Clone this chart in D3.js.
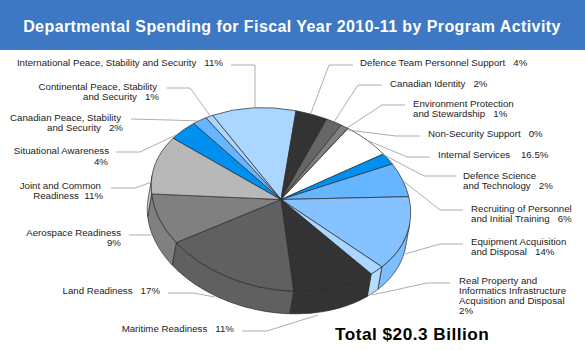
<!DOCTYPE html>
<html>
<head>
<meta charset="utf-8">
<script src="https://d3js.org/d3.v7.min.js"></script>
<style>
  html, body { margin: 0; padding: 0; background: #fff; }
  svg { display: block; }
  text { font-family: "Liberation Sans", Arial, sans-serif; }
</style>
</head>
<body>
<div id="plot"></div>
<script>
// slices clockwise, starting with International Peace
var programs = [
  "International Peace", "Defence Team", "Canadian Identity", "Environment",
  "Non-Security", "Internal Services", "Defence Science", "Recruiting",
  "Equipment", "Real Property", "Maritime", "Land", "Aerospace",
  "Joint and Common", "Situational", "Canadian Peace", "Continental Peace"
]
// percents as printed, except Internal Services: label says 16.5 but the slice is drawn about 6
var shares = [11, 4, 2, 1, 0, 6, 2, 6, 14, 2, 11, 17, 9, 11, 4, 2, 1]
var sliceColors = [
  "#aad6ff", "#333333", "#666666", "#808080", "#ffffff", "#ffffff", "#0090f0", "#66b5ff",
  "#85c2ff", "#aad6ff", "#333333", "#606060", "#808080", "#b8b8b8", "#0090f0", "#66b5ff", "#aad6ff"
]
var wallColors = [
  "#aad6ff", "#333333", "#666666", "#808080", "#ffffff", "#ffffff", "#0090f0", "#66b5ff",
  "#7dbeff", "#b4dcff", "#333333", "#606060", "#808080", "#c4c4c4", "#0090f0", "#66b5ff", "#aad6ff"
]

var titleText = "Departmental Spending for Fiscal Year 2010-11 by Program Activity"
var totalText = "Total $20.3 Billion"

// label text, lines of [x, baseline, anchor, string]
var labels = [
  [223, 66, "end", "International Peace, Stability and Security   11%"],
  [157, 89.5, "end", "Continental Peace, Stability"],
  [159, 99.5, "end", "and Security   1%"],
  [121, 120.5, "end", "Canadian Peace, Stability"],
  [123, 130.5, "end", "and Security   2%"],
  [109, 153.5, "end", "Situational Awareness"],
  [108, 165, "end", "4%"],
  [101, 188.5, "end", "Joint and Common"],
  [103, 198.5, "end", "Readiness  11%"],
  [121, 235.5, "end", "Aerospace Readiness"],
  [121, 245.5, "end", "9%"],
  [160, 294, "end", "Land Readiness   17%"],
  [234, 331.5, "end", "Maritime Readiness   11%"],
  [360, 66, "start", "Defence Team Personnel Support   4%"],
  [390, 86.5, "start", "Canadian Identity   2%"],
  [413, 106.5, "start", "Environment Protection"],
  [413, 116.5, "start", "and Stewardship   1%"],
  [428, 137, "start", "Non-Security Support   0%"],
  [438, 158, "start", "Internal Services    16.5%"],
  [463, 179, "start", "Defence Science"],
  [463, 189, "start", "and Technology   2%"],
  [471, 211.5, "start", "Recruiting of Personnel"],
  [471, 221.5, "start", "and Initial Training   6%"],
  [471, 245, "start", "Equipment Acquisition"],
  [471, 255, "start", "and Disposal   14%"],
  [459, 284, "start", "Real Property and"],
  [459, 294, "start", "Informatics Infrastructure"],
  [459, 304, "start", "Acquisition and Disposal"],
  [459, 314, "start", "2%"]
]

// leader lines from label to slice
var leaders = [
  [[231, 65], [255, 65], [255, 108]],
  [[167, 88], [190, 88], [211, 117]],
  [[131, 119], [170, 120], [200, 121]],
  [[116, 152], [140, 152], [178, 134]],
  [[111, 188], [135, 188], [152, 182]],
  [[129, 235], [152, 235]],
  [[168, 293], [193, 293], [215, 297]],
  [[242, 331], [267, 331], [318, 315]],
  [[353, 65], [329, 65], [311, 113]],
  [[382, 85], [358, 85], [334, 122]],
  [[405, 105], [382, 105], [347, 128]],
  [[420, 136], [396, 136], [348, 130]],
  [[430, 157], [407, 157], [369, 141]],
  [[456, 176], [424, 176], [382, 154]],
  [[463, 210], [440, 210], [402, 180]],
  [[463, 244], [440, 244], [405, 254]],
  [[450, 283], [427, 283], [372, 295]]
]

var width = 585, height = 350

// ellipse of the pie top, wall is the same ellipse moved down and slightly left
var cx = 281, cy = 199.5, rx = 131, ry = 90, tilt = 11
var wallShift = [-4, 22.5]
var wallFrom = 89.4 * Math.PI / 180, wallTo = 269.4 * Math.PI / 180
var firstAngle = -39.4 * Math.PI / 180

var svg = d3.select("#plot")
  .append("svg")
  .attr("width", width)
  .attr("height", height)

svg.append("rect")
  .attr("width", width)
  .attr("height", 50)
  .attr("fill", "#3e77c3")

svg.append("text")
  .attr("x", 292)
  .attr("y", 31.5)
  .attr("text-anchor", "middle")
  .attr("fill", "#fff")
  .style("font-size", "16px")
  .style("font-weight", "bold")
  .style("letter-spacing", "0.42px")
  .text(titleText)

var pie = d3.pie()
  .sort(null)
  .startAngle(firstAngle)
  .endAngle(firstAngle + 2 * Math.PI)

var arcs = pie(shares)
var arc = d3.arc().innerRadius(0).outerRadius(rx)

// where a pie angle lands on the tilted ellipse
var rimPoint = function (a, shift) {
  var x = rx * Math.sin(a)
    , y = -ry * Math.cos(a)
    , t = tilt * Math.PI / 180
  return [
    cx + x * Math.cos(t) - y * Math.sin(t) + (shift ? wallShift[0] : 0),
    cy + x * Math.sin(t) + y * Math.cos(t) + (shift ? wallShift[1] : 0)
  ]
}

var line = d3.line()

var wallPath = function (d) {
  var a0 = Math.max(d.startAngle, wallFrom)
    , a1 = Math.min(d.endAngle, wallTo)
    , top = d3.range(0, 25).map(i => a0 + (a1 - a0) * i / 24)
  return line(top.map(a => rimPoint(a, false)).concat(top.reverse().map(a => rimPoint(a, true)))) + "Z"
}

// only the slices facing the viewer have a wall
svg.append("g")
  .selectAll("path")
  .data(arcs.filter(d => d.endAngle > wallFrom && d.startAngle < wallTo))
  .enter()
  .append("path")
  .attr("d", wallPath)
  .attr("fill", d => wallColors[d.index])
  .attr("stroke", "#2a2a2a")
  .attr("stroke-width", 0.7)

svg.append("g")
  .attr("transform", "translate(" + cx + "," + cy + ") rotate(" + tilt + ") scale(1," + (ry / rx) + ")")
  .selectAll("path")
  .data(arcs)
  .enter()
  .append("path")
  .attr("d", arc)
  .attr("fill", d => sliceColors[d.index])
  .attr("stroke", "#2a2a2a")
  .attr("stroke-width", 0.7)
  .attr("vector-effect", "non-scaling-stroke")
  .append("title")
  .text((d, i) => programs[i])

svg.append("g")
  .selectAll("path")
  .data(leaders)
  .enter()
  .append("path")
  .attr("d", line)
  .attr("fill", "none")
  .attr("stroke", "#999")
  .attr("stroke-width", 0.8)

svg.append("g")
  .selectAll("text")
  .data(labels)
  .enter()
  .append("text")
  .attr("x", d => d[0])
  .attr("y", d => d[1])
  .attr("text-anchor", d => d[2])
  .attr("fill", "#222")
  .style("font-size", "9.7px")
  .style("white-space", "pre")
  .text(d => d[3])

svg.append("text")
  .attr("x", 335)
  .attr("y", 340)
  .attr("fill", "#000")
  .style("font-size", "17.2px")
  .style("font-weight", "bold")
  .style("letter-spacing", "0.5px")
  .text(totalText)
</script>
</body>
</html>
